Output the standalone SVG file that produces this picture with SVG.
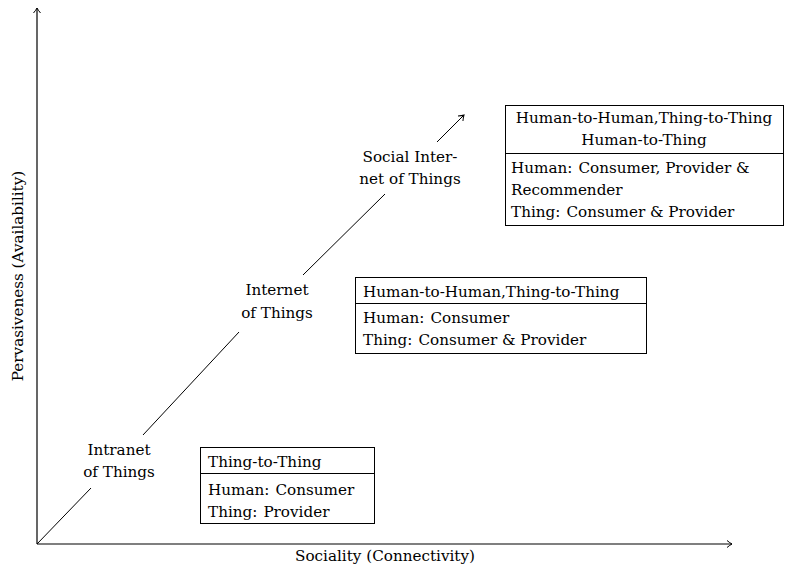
<svg xmlns="http://www.w3.org/2000/svg" width="785" height="570" viewBox="0 0 785 570">
<defs>
<marker id="arr" viewBox="-6 -4 8 8" refX="0" refY="0" markerWidth="8" markerHeight="8" markerUnits="userSpaceOnUse" orient="auto">
<path d="M-5,-3.5 Q-2,-1 0,0 Q-2,1 -5,3.5" fill="none" stroke="#000" stroke-width="1"/>
</marker>
</defs>
<style>
text{font-family:"DejaVu Serif","Liberation Serif",serif;font-size:15.2px;fill:#000}
.ax{stroke:#000;stroke-width:1.2;fill:none}
.ln{stroke:#000;stroke-width:1;fill:none}
.box{fill:#fff;stroke:#000;stroke-width:1}
.c{text-anchor:middle}
</style>
<g id="axes">
<line class="ax" x1="37" y1="544" x2="37" y2="8" marker-end="url(#arr)"/>
<line class="ax" x1="37" y1="544" x2="732" y2="544" marker-end="url(#arr)"/>
<text class="c" x="385" y="561">Sociality (Connectivity)</text>
<text class="c" transform="translate(23,276) rotate(-90)">Pervasiveness (Availability)</text>
</g>
<g id="connectors">
<line class="ln" x1="37" y1="544" x2="91" y2="488"/>
<line class="ln" x1="143" y1="435" x2="239" y2="332"/>
<line class="ln" x1="303" y1="275" x2="385" y2="194"/>
<line class="ln" x1="437" y1="142" x2="464" y2="115" marker-end="url(#arr)"/>
</g>
<g id="intranet">
<text class="c" x="119" y="455">Intranet</text>
<text class="c" x="119" y="477">of Things</text>
</g>
<g id="internet">
<text class="c" x="277" y="295">Internet</text>
<text class="c" x="277" y="318">of Things</text>
</g>
<g id="siot">
<text class="c" x="410" y="162">Social Inter-</text>
<text class="c" x="410" y="184">net of Things</text>
</g>
<g id="box1">
<rect class="box" x="200.5" y="447.5" width="174" height="76"/>
<line class="ln" x1="200.5" y1="473.5" x2="374.5" y2="473.5"/>
<text x="208" y="467">Thing-to-Thing</text>
<text x="208" y="495">Human:<tspan dx="6">Consumer</tspan></text>
<text x="208" y="517">Thing:<tspan dx="6">Provider</tspan></text>
</g>
<g id="box2">
<rect class="box" x="355.5" y="277.5" width="291" height="76"/>
<line class="ln" x1="355.5" y1="303.5" x2="646.5" y2="303.5"/>
<text x="363" y="297">Human-to-Human,Thing-to-Thing</text>
<text x="363" y="323">Human:<tspan dx="6">Consumer</tspan></text>
<text x="363" y="345">Thing:<tspan dx="6">Consumer &amp; Provider</tspan></text>
</g>
<g id="box3">
<rect class="box" x="505.5" y="105.5" width="278" height="120"/>
<line class="ln" x1="505.5" y1="153.5" x2="783.5" y2="153.5"/>
<text class="c" x="644" y="123">Human-to-Human,Thing-to-Thing</text>
<text class="c" x="644" y="145">Human-to-Thing</text>
<text x="511" y="173">Human:<tspan dx="6">Consumer, Provider &amp;</tspan></text>
<text x="511" y="195">Recommender</text>
<text x="511" y="217">Thing:<tspan dx="6">Consumer &amp; Provider</tspan></text>
</g>
</svg>
